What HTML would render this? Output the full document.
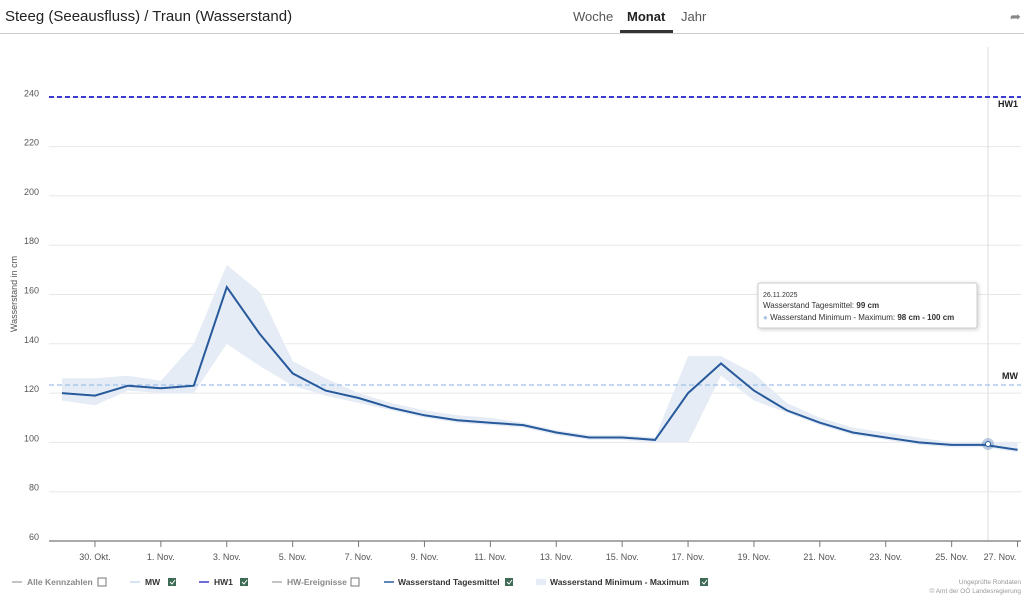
<!DOCTYPE html>
<html><head><meta charset="utf-8"><style>
body{margin:0;width:1024px;height:603px;background:#fff;font-family:"Liberation Sans",sans-serif;overflow:hidden;position:relative}
.t{position:absolute}
</style></head><body>
<div class="t" style="left:5px;top:8px;font-size:15px;color:#222">Steeg (Seeausfluss) / Traun (Wasserstand)</div>
<div class="t" style="left:573px;top:9px;font-size:13px;color:#555">Woche</div>
<div class="t" style="left:627px;top:9px;font-size:13px;color:#222;font-weight:bold">Monat</div>
<div class="t" style="left:681px;top:9px;font-size:13px;color:#555">Jahr</div>
<div class="t" style="left:620px;top:30px;width:53px;height:3px;background:#333"></div>
<div class="t" style="left:1010px;top:9px;font-size:13px;color:#888">➦</div>
<div class="t" style="left:0;top:33px;width:1024px;height:1px;background:#ccc"></div>
<svg class="t" style="left:0;top:0" width="1024" height="603" font-family="Liberation Sans, sans-serif">
<g id="grid" stroke="#e8e8e8" stroke-width="1"></g>
<g font-size="9" fill="#555" text-anchor="end" id="ylab"></g>
<text x="17" y="294" font-size="9" fill="#555" transform="rotate(-90 17 294)" text-anchor="middle">Wasserstand in cm</text>
<line x1="988" y1="47" x2="988" y2="541" stroke="#ddd"/>
<path id="band" fill="#e6ecf5"/>
<line x1="49" y1="385" x2="1021" y2="385" stroke="#9fc1ea" stroke-dasharray="5,3" stroke-width="1.3"/>
<line x1="49" y1="97" x2="1021" y2="97" stroke="#3b3bd0" stroke-dasharray="5,3" stroke-width="2"/>
<text x="1018" y="107" font-size="9" font-weight="bold" text-anchor="end" fill="#222">HW1</text>
<text x="1018" y="379" font-size="9" font-weight="bold" text-anchor="end" fill="#222">MW</text>
<path id="line" fill="none" stroke="#275a9c" stroke-width="2"/>
<circle cx="988" cy="444" r="6" fill="#2a5d9f" fill-opacity="0.3"/>
<circle cx="988" cy="444" r="2.5" fill="#fff" stroke="#2a5d9f"/>
<line x1="49" y1="541" x2="1021" y2="541" stroke="#777" stroke-width="1.3"/>
<g id="xt" stroke="#777"></g>
<g id="xl" font-size="9" fill="#555" text-anchor="middle"></g>
<rect x="758" y="283" width="219" height="45" fill="#fff" stroke="#ccc" rx="2" style="filter:drop-shadow(1px 1px 2px rgba(0,0,0,.2))"/>
<text x="763" y="297" font-size="7" fill="#333">26.11.2025</text>
<text x="763" y="308" font-size="8" fill="#333">Wasserstand Tagesmittel: <tspan font-weight="bold">99 cm</tspan></text>
<text x="763" y="320" font-size="8" fill="#333"><tspan fill="#a9c3e6">●</tspan> Wasserstand Minimum - Maximum: <tspan font-weight="bold">98 cm - 100 cm</tspan></text>
<g font-size="8.5" font-weight="bold" fill="#333">
<line x1="12" y1="582" x2="22" y2="582" stroke="#888"/><text x="27" y="585" fill="#888">Alle Kennzahlen</text>
<rect x="98" y="578" width="8" height="8" fill="#fff" stroke="#777"/>
<line x1="130" y1="582" x2="140" y2="582" stroke="#aac8ee"/><text x="145" y="585">MW</text>
<rect x="168" y="578" width="8" height="8" fill="#3e6b55"/><path d="M170 582l2 2 3-4" stroke="#fff" fill="none"/>
<line x1="199" y1="582" x2="209" y2="582" stroke="#3b3bd0" stroke-width="1.5"/><text x="214" y="585">HW1</text>
<rect x="240" y="578" width="8" height="8" fill="#3e6b55"/><path d="M242 582l2 2 3-4" stroke="#fff" fill="none"/>
<line x1="272" y1="582" x2="282" y2="582" stroke="#888"/><text x="287" y="585" fill="#888">HW-Ereignisse</text>
<rect x="351" y="578" width="8" height="8" fill="#fff" stroke="#777"/>
<line x1="384" y1="582" x2="394" y2="582" stroke="#2a5d9f" stroke-width="1.5"/><text x="398" y="585">Wasserstand Tagesmittel</text>
<rect x="505" y="578" width="8" height="8" fill="#3e6b55"/><path d="M507 582l2 2 3-4" stroke="#fff" fill="none"/>
<rect x="536" y="579" width="10" height="6" fill="#e6ecf5"/><text x="550" y="585">Wasserstand Minimum - Maximum</text>
<rect x="700" y="578" width="8" height="8" fill="#3e6b55"/><path d="M702 582l2 2 3-4" stroke="#fff" fill="none"/>
</g>
<text x="1021" y="584" font-size="6.5" fill="#999" text-anchor="end">Ungeprüfte Rohdaten</text>
<text x="1021" y="593" font-size="6.5" fill="#999" text-anchor="end">© Amt der OÖ Landesregierung</text>
</svg>
<script>
function Y(v){return 541-(v-60)*2.465}
function X(d){return 62+32.95*d}
var ns="http://www.w3.org/2000/svg";
var g=document.getElementById('grid'),yl=document.getElementById('ylab');
for(var v=60;v<=240;v+=20){var l=document.createElementNS(ns,'line');l.setAttribute('x1',49);l.setAttribute('x2',1021);l.setAttribute('y1',Y(v));l.setAttribute('y2',Y(v));g.appendChild(l);
var t=document.createElementNS(ns,'text');t.setAttribute('x',39);t.setAttribute('y',Y(v)-1);t.textContent=v;yl.appendChild(t);}
var mean=[120,119,123,122,123,163,144,128,121,118,114,111,109,108,107,104,102,102,101,120,132,121,113,108,104,102,100,99,99,97];
var mn=[117,115,121,120,120,140,131,123,119,116,113,110,108,107,106,103,101,101,100,100,127,117,112,107,103,101,99,98,98,96];
var mx=[126,126,127,125,140,172,161,133,126,120,116,113,111,110,108,105,103,103,102,135,135,128,116,110,106,104,102,100,100,100];
var p='';mean.forEach(function(v,i){p+=(i?'L':'M')+X(i).toFixed(1)+','+Y(v).toFixed(1)});
document.getElementById('line').setAttribute('d',p);
var b='';mx.forEach(function(v,i){b+=(i?'L':'M')+X(i).toFixed(1)+','+Y(v).toFixed(1)});
for(var i=mn.length-1;i>=0;i--)b+='L'+X(i).toFixed(1)+','+Y(mn[i]).toFixed(1);
document.getElementById('band').setAttribute('d',b+'Z');
var labs=['30. Okt.','1. Nov.','3. Nov.','5. Nov.','7. Nov.','9. Nov.','11. Nov.','13. Nov.','15. Nov.','17. Nov.','19. Nov.','21. Nov.','23. Nov.','25. Nov.','27. Nov.'];
var xt=document.getElementById('xt'),xl=document.getElementById('xl');
labs.forEach(function(s,k){var x=X(1+2*k);var l=document.createElementNS(ns,'line');l.setAttribute('x1',x);l.setAttribute('x2',x);l.setAttribute('y1',541);l.setAttribute('y2',547);xt.appendChild(l);
var t=document.createElementNS(ns,'text');t.setAttribute('x',k==14?1000:x);t.setAttribute('y',560);t.textContent=s;xl.appendChild(t);});
</script>
</body></html>
